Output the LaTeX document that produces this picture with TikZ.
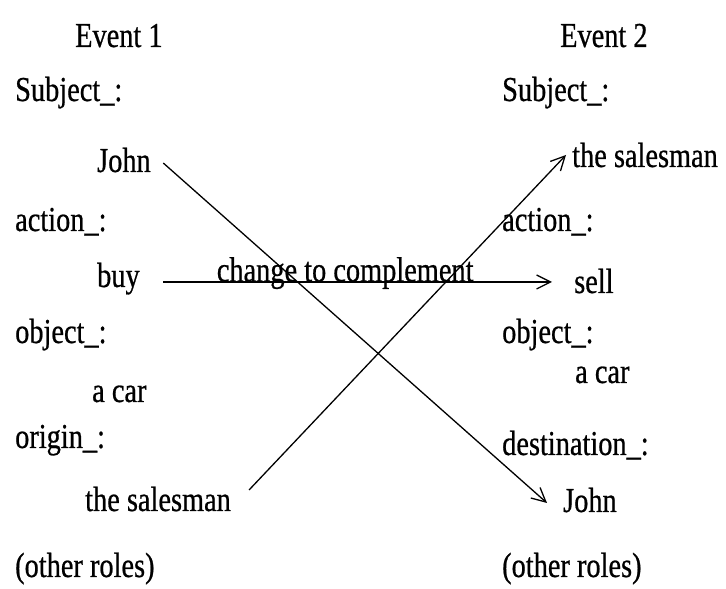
\documentclass[tikz,border=0pt]{standalone}
\usepackage{fontspec}
\setmainfont[FakeStretch=0.81,FakeBold=0.6]{Liberation Serif}
\usetikzlibrary{arrows.meta}
\begin{document}
\begin{tikzpicture}[x=1pt,y=1pt,
  txt/.style={inner sep=0pt, anchor=base west, font=\fontsize{35}{40}\selectfont},
  conn/.style={line width=1.3pt, -{Straight Barb[length=14pt,width=14pt,line width=1.3pt]}}]
\useasboundingbox (0,0) rectangle (726,589);
% Event 1
\node[txt] (ev1) at (75,542) {Event 1};
\node[txt] (subjL) at (15,488) {Subject\_:};
\node[txt] (johnL) at (97,417) {John};
\node[txt] (actL) at (15,358) {action\_:};
\node[txt] (buy) at (97,302) {buy};
\node[txt] (objL) at (15,246) {object\_:};
\node[txt] (carL) at (92,187) {a car};
\node[txt] (orig) at (15,141) {origin\_:};
\node[txt] (salesL) at (85,78) {the salesman};
\node[txt] (othL) at (15,12) {(other roles)};
% Event 2
\node[txt] (ev2) at (560,542) {Event 2};
\node[txt] (subjR) at (502,488) {Subject\_:};
\node[txt] (salesR) at (572,422) {the salesman};
\node[txt] (actR) at (502,358) {action\_:};
\node[txt] (sell) at (574,296) {sell};
\node[txt] (objR) at (502,246) {object\_:};
\node[txt] (carR) at (575,206) {a car};
\node[txt] (dest) at (502,134) {destination\_:};
\node[txt] (johnR) at (563,77) {John};
\node[txt] (othR) at (502,12) {(other roles)};
% connectors
\draw[conn] ([shift={(12.3pt,9pt)}]johnL.base east) -- ([shift={(-16pt,9pt)}]johnR.base west);
\draw[conn] ([shift={(18pt,21pt)}]salesL.base east) -- ([shift={(-6pt,12pt)}]salesR.base west);
\draw[conn] ([shift={(23.3pt,5pt)}]buy.base east) -- ([shift={(-22pt,11pt)}]sell.base west)
  node[pos=0.468, anchor=base, inner sep=0pt, yshift=0.5pt, font=\fontsize{35}{40}\selectfont] (lbl) {change to complement};
\end{tikzpicture}
\end{document}
